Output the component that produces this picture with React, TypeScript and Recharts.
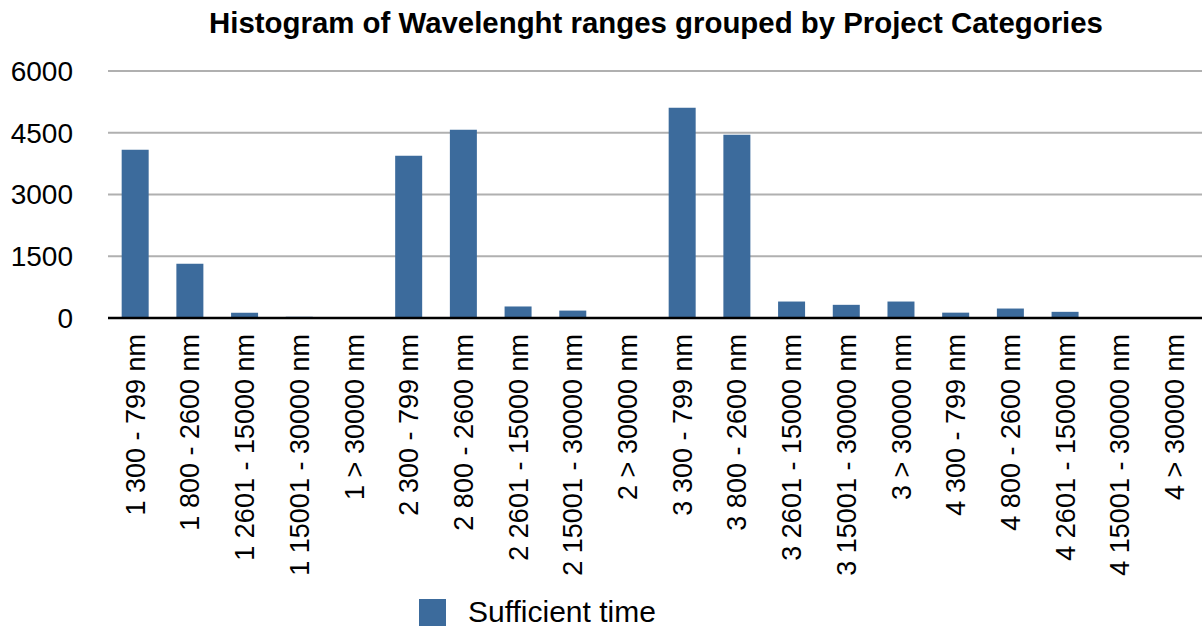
import React from 'react';
import { BarChart, Bar, XAxis, YAxis, CartesianGrid, Legend } from 'recharts';

const chartTitle = 'Histogram of Wavelenght ranges grouped by Project Categories';
const seriesName = 'Sufficient time';

const categories = [
  '1 300 - 799 nm',
  '1 800 - 2600 nm',
  '1 2601 - 15000 nm',
  '1 15001 - 30000 nm',
  '1 > 30000 nm',
  '2 300 - 799 nm',
  '2 800 - 2600 nm',
  '2 2601 - 15000 nm',
  '2 15001 - 30000 nm',
  '2 > 30000 nm',
  '3 300 - 799 nm',
  '3 800 - 2600 nm',
  '3 2601 - 15000 nm',
  '3 15001 - 30000 nm',
  '3 > 30000 nm',
  '4 300 - 799 nm',
  '4 800 - 2600 nm',
  '4 2601 - 15000 nm',
  '4 15001 - 30000 nm',
  '4 > 30000 nm',
];

const sufficientTime = [
  4090, 1320, 130, 30, 0,
  3940, 4570, 280, 180, 0,
  5110, 4450, 400, 320, 400,
  130, 230, 150, 0, 0,
];

const yTicks = [0, 1500, 3000, 4500, 6000];

const data = categories.map((c, i) => ({ category: c, value: sufficientTime[i] }));

const FONT = '"Liberation Sans", Arial, Helvetica, sans-serif';
const BAR_COLOR = '#3c6b9c';

const XTick = (props: any) => {
  const { x, y, payload } = props;
  const ty = y + 16;
  return (
    <text
      x={x}
      y={ty}
      transform={`rotate(-90, ${x}, ${ty})`}
      textAnchor="end"
      dy="0.35em"
      fontSize={27}
      fontFamily={FONT}
      fill="#000"
    >
      {payload.value}
    </text>
  );
};

const LegendContent = () => (
  <div style={{ height: 36, display: 'flex', alignItems: 'flex-start', fontFamily: FONT }}>
    <div style={{ width: 27, height: 27, background: BAR_COLOR, marginTop: 8 }} />
    <div style={{ marginLeft: 22, fontSize: 30, lineHeight: '30px', marginTop: 6, color: '#000', whiteSpace: 'nowrap' }}>
      {seriesName}
    </div>
  </div>
);

export default function App() {
  return (
    <div style={{ position: 'absolute', left: 0, top: 0, width: 1202, height: 627, background: '#fff' }}>
      <div
        style={{
          position: 'absolute',
          left: 0,
          top: 8,
          width: 1312,
          textAlign: 'center',
          fontFamily: FONT,
          fontWeight: 'bold',
          fontSize: 29.4,
          lineHeight: '30px',
          color: '#000',
          whiteSpace: 'nowrap',
        }}
      >
        {chartTitle}
      </div>
      <BarChart
        width={1202}
        height={627}
        data={data}
        margin={{ top: 71, right: 0, left: 0, bottom: 0 }}
        barCategoryGap="25%"
      >
        <CartesianGrid vertical={false} stroke="#b0b0b0" strokeWidth={2} />
        <XAxis
          dataKey="category"
          interval={0}
          height={273}
          tickLine={false}
          tickSize={0}
          tickMargin={0}
          axisLine={{ stroke: '#000', strokeWidth: 2.5 }}
          tick={<XTick />}
        />
        <YAxis
          width={108}
          domain={[0, 6000]}
          ticks={yTicks}
          axisLine={false}
          tickLine={false}
          tickSize={0}
          tickMargin={35}
          tick={{ fontSize: 28, fontFamily: FONT, fill: '#000' }}
        />
        <Legend
          verticalAlign="bottom"
          content={<LegendContent />}
          wrapperStyle={{ left: 419, width: 320, bottom: 0 }}
        />
        <Bar dataKey="value" name={seriesName} fill={BAR_COLOR} isAnimationActive={false} />
      </BarChart>
    </div>
  );
}
